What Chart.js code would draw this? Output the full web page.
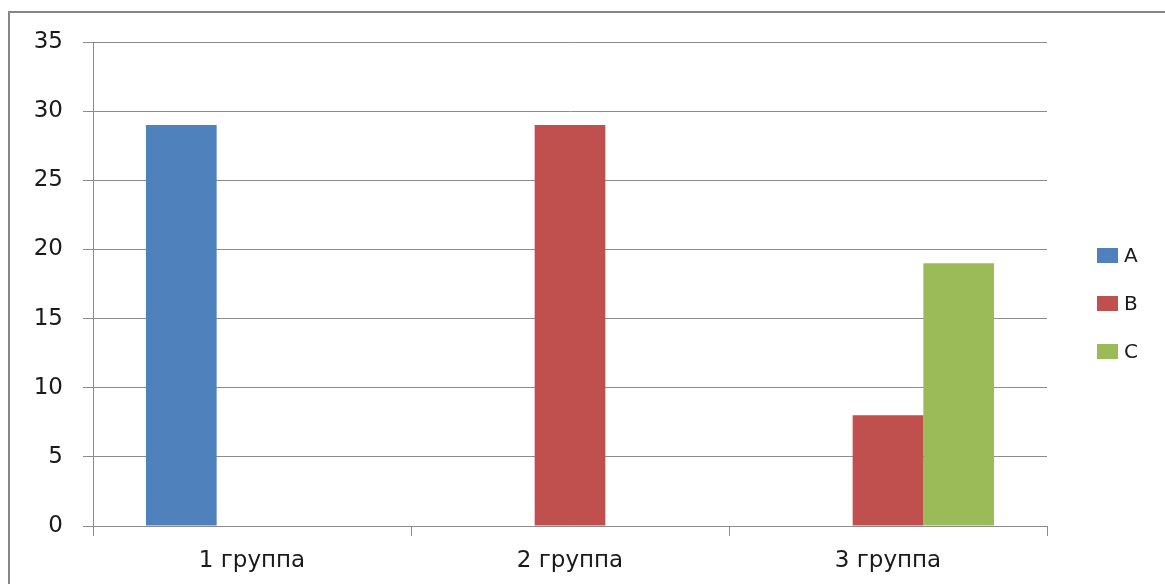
<!DOCTYPE html>
<html>
<head>
<meta charset="utf-8">
<script src="https://cdn.jsdelivr.net/npm/chart.js@4/dist/chart.umd.min.js"></script>
<style>
  html, body { margin: 0; padding: 0; background: #fff; }
  #wrap { width: 1165px; height: 584px; position: relative; }
</style>
</head>
<body>
<div id="wrap"><canvas id="chart" width="1165" height="584"></canvas></div>
<script>
const categories = ["1 группа", "2 группа", "3 группа"];
const seriesNames = ["A", "B", "C"];
const seriesA = [29, null, null];
const seriesB = [null, 29, 8];
const seriesC = [null, null, 19];
const seriesColors = ["#4F81BD", "#C0504D", "#9BBB59"];
const yTicks = [0, 5, 10, 15, 20, 25, 30, 35];

const gridColor = "#8c8c8c";

// outer frame and right-side legend
const framePlugin = {
  id: "frame",
  afterDraw(chart) {
    const ctx = chart.ctx;
    ctx.save();
    ctx.strokeStyle = "#868686";
    ctx.lineWidth = 2;
    ctx.strokeRect(9, 12, 1200, 600);

    ctx.font = "20px 'DejaVu Sans'";
    ctx.textBaseline = "middle";
    chart.data.datasets.forEach((ds, i) => {
      const cy = 255.5 + i * 48;
      ctx.fillStyle = ds.backgroundColor;
      ctx.fillRect(1097, cy - 7.5, 21, 15);
      ctx.fillStyle = "#1a1a1a";
      ctx.fillText(ds.label, 1124, cy + 1);
    });
    ctx.restore();
  }
};

const seriesData = [seriesA, seriesB, seriesC];

new Chart(document.getElementById("chart"), {
  type: "bar",
  data: {
    labels: categories,
    datasets: seriesNames.map((name, i) => ({
      label: name,
      data: seriesData[i],
      backgroundColor: seriesColors[i],
      borderWidth: 0,
      categoryPercentage: 0.667,
      barPercentage: 1.0,
    })),
  },
  options: {
    responsive: false,
    animation: false,
    layout: { padding: { left: 0, right: 118, top: 42, bottom: 0 } },
    plugins: {
      legend: { display: false },
      tooltip: { enabled: false },
    },
    scales: {
      x: {
        grid: {
          offset: true,
          drawOnChartArea: false,
          drawTicks: true,
          tickLength: 10,
          color: gridColor,
        },
        border: { color: gridColor },
        ticks: {
          color: "#1a1a1a",
          padding: 11,
          font: { family: "DejaVu Sans", size: 23 },
        },
        afterFit(scale) { scale.height = 58; },
      },
      y: {
        min: 0,
        max: 35,
        afterBuildTicks(scale) { scale.ticks = yTicks.map(v => ({ value: v })); },
        grid: {
          color: gridColor,
          drawTicks: true,
          tickLength: 10,
        },
        border: { color: gridColor },
        ticks: {
          color: "#1a1a1a",
          padding: 20,
          font: { family: "DejaVu Sans", size: 23 },
        },
        afterFit(scale) { scale.width = 93; },
      },
    },
  },
  plugins: [framePlugin],
});
</script>
</body>
</html>
